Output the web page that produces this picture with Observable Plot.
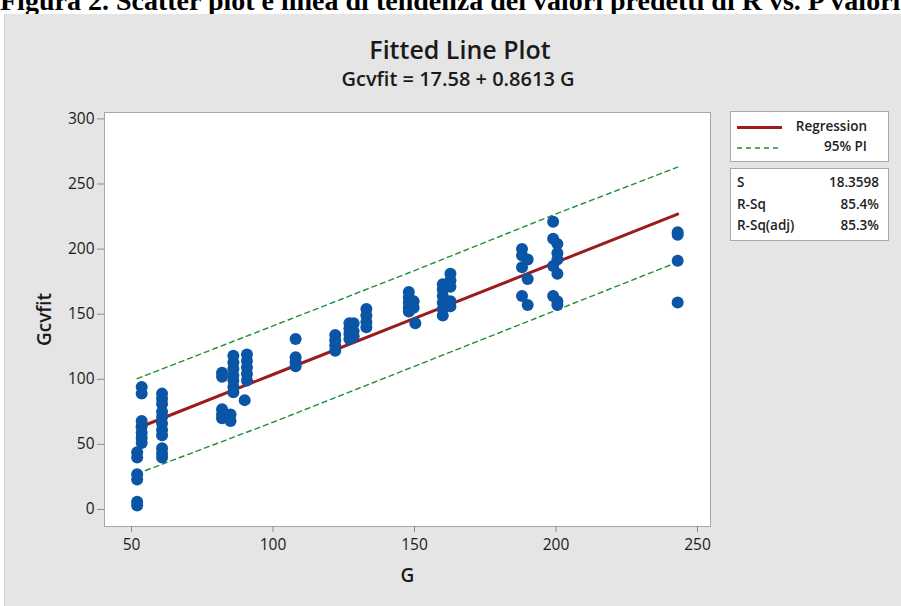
<!DOCTYPE html>
<html><head><meta charset="utf-8">
<script src="https://cdn.jsdelivr.net/npm/d3@7"></script>
<script src="https://cdn.jsdelivr.net/npm/@observablehq/plot@0.6"></script>
<style>
body{margin:0;width:901px;height:606px;overflow:hidden;background:#fff;position:relative;font-family:"Open Sans",sans-serif;color:#111;}
#caption{position:absolute;left:0;top:-15.5px;white-space:nowrap;font:bold 28px "Liberation Serif",serif;color:#000;}
#panel{position:absolute;left:4px;top:14px;width:897px;height:592px;background:#e5e5e5;border-left:1px solid #cfcfcf;}
#chart{position:absolute;left:0;top:0;}
.abs{position:absolute;white-space:nowrap;}
.box{position:absolute;background:#fff;border:1px solid #a8a8a8;box-sizing:border-box;}
.lg{font-size:13.5px;font-weight:600;color:#222;}
</style></head><body>
<div id="caption">Figura 2. Scatter plot e linea di tendenza dei valori predetti di R vs. P valori</div>
<div id="panel"></div>
<div id="chart"></div>
<div class="abs" style="left:0;width:920px;text-align:center;top:32px;font-size:25px;font-weight:600;color:#1a1a1a;">Fitted Line Plot</div>
<div class="abs" style="left:0;width:916px;text-align:center;top:65px;font-size:20px;font-weight:600;color:#1a1a1a;">Gcvfit = 17.58 + 0.8613 G</div>
<div class="box" style="left:730px;top:111px;width:159px;height:51px;"></div>
<div class="box" style="left:730px;top:168px;width:159px;height:73px;"></div>
<svg class="abs" style="left:0;top:0" width="901" height="606">
<line x1="737" x2="782" y1="127.5" y2="127.5" stroke="#9e1b1d" stroke-width="3"/>
<line x1="737" x2="782" y1="148" y2="148" stroke="#1f8f3a" stroke-width="1.4" stroke-dasharray="5,4"/>
</svg>
<div class="abs lg" style="right:34px;top:117px;">Regression</div>
<div class="abs lg" style="right:34px;top:137px;">95% PI</div>
<div class="abs lg" style="left:737px;top:173px;">S</div>
<div class="abs lg" style="right:22px;top:173px;">18.3598</div>
<div class="abs lg" style="left:737px;top:195px;">R-Sq</div>
<div class="abs lg" style="right:22px;top:195px;">85.4%</div>
<div class="abs lg" style="left:737px;top:216px;">R-Sq(adj)</div>
<div class="abs lg" style="right:22px;top:216px;">85.3%</div>
<script>
// Observed data (G, Gcvfit)
const G = [
 52,52,52,52,52,52,
 53.6,53.6,53.6,53.6,53.6,53.6,53.6,
 60.8,60.8,60.8,60.8,60.8,60.8,60.8,60.8,60.8,60.8,60.8,
 82,82,82,82,82,
 85,85,86,86,86,86,86,86,86,
 90.8,90.8,90.8,90.8,90.8,90,
 108,108,108,108,
 122,122,122,122,
 127,127,127,127,128.5,128.5,128.5,
 133,133,133,133,
 148,148,148,148,148,149.7,149.7,150.3,
 160,160,160,160,160,160,162.7,162.7,162.7,162.7,162.7,
 188,188,188,188,190,190,190,
 199,199,199,199,200.5,200.5,200.5,200.5,200.5,200.5,
 243,243,243,243
];
const Gcvfit = [
 44,40,27,23,6,3,
 94,89,68,64,59,55,51,
 89,85,81,75,71,66,61,57,47,43,40,
 105,102,77,73,70,
 73,68,118,113,108,103,99,94,90,
 119,114,109,104,99,84,
 131,117,113,110,
 134,130,126,122,
 143,139,135,131,143,137,133,
 154,149,144,140,
 167,163,159,155,152,160,155,143,
 173,169,164,159,154,149,181,176,171,160,156,
 200,195,186,164,192,177,157,
 221,208,187,164,204,197,192,181,160,157,
 213,211,191,159
];
// Fitted line and 95% prediction interval, read at sample G values
const lineG = [52, 100, 150, 200, 243];
const regFit = [62.4, 103.7, 146.8, 189.8, 226.9];
const piUpper = [100.5, 141, 183.5, 227, 263];
const piLower = [27.5, 67, 110, 153, 190];
const xTicks = [50, 100, 150, 200, 250];
const yTicks = [0, 50, 100, 150, 200, 250, 300];

const pts = G.map((g, i) => ({G: g, y: Gcvfit[i]}));
const lines = lineG.map((g, i) => ({G: g, reg: regFit[i], up: piUpper[i], lo: piLower[i]}));

const chart = Plot.plot({
  width: 901, height: 606,
  marginLeft: 104, marginRight: 191, marginTop: 112, marginBottom: 80,
  style: {background: "transparent", fontFamily: "Open Sans, sans-serif", fontSize: "15px", color: "#1a1a1a", overflow: "visible"},
  x: {domain: [40.46, 254.6]},
  y: {domain: [-13.05, 304.9]},
  marks: [
    Plot.frame({fill: "white", stroke: "#a8a8a8"}),
    Plot.axisX({ticks: xTicks, tickSize: 6, tickPadding: 6, stroke: "#8a8a8a", label: "G", labelAnchor: "center", labelOffset: 55, labelArrow: "none", fontSize: 15.5}),
    Plot.axisY({ticks: yTicks, tickSize: 7, tickPadding: 3, stroke: "#8a8a8a", label: "Gcvfit", labelAnchor: "center", labelOffset: 67, labelArrow: "none", fontSize: 15.5}),
    Plot.line(lines, {x: "G", y: "up", stroke: "#1f8f3a", strokeWidth: 1.4, strokeDasharray: "5,4"}),
    Plot.line(lines, {x: "G", y: "lo", stroke: "#1f8f3a", strokeWidth: 1.4, strokeDasharray: "5,4"}),
    Plot.line(lines, {x: "G", y: "reg", stroke: "#9e1b1d", strokeWidth: 3}),
    Plot.dot(pts, {x: "G", y: "y", r: 6, fill: "#0a55a6", stroke: "none"})
  ]
});
document.getElementById("chart").appendChild(chart);
// axis title styling
chart.querySelectorAll("[aria-label='x-axis label'] text, [aria-label='y-axis label'] text").forEach(t => {
  t.setAttribute("font-size", "19");
  t.setAttribute("font-weight", "600");
});
</script>
</body></html>
